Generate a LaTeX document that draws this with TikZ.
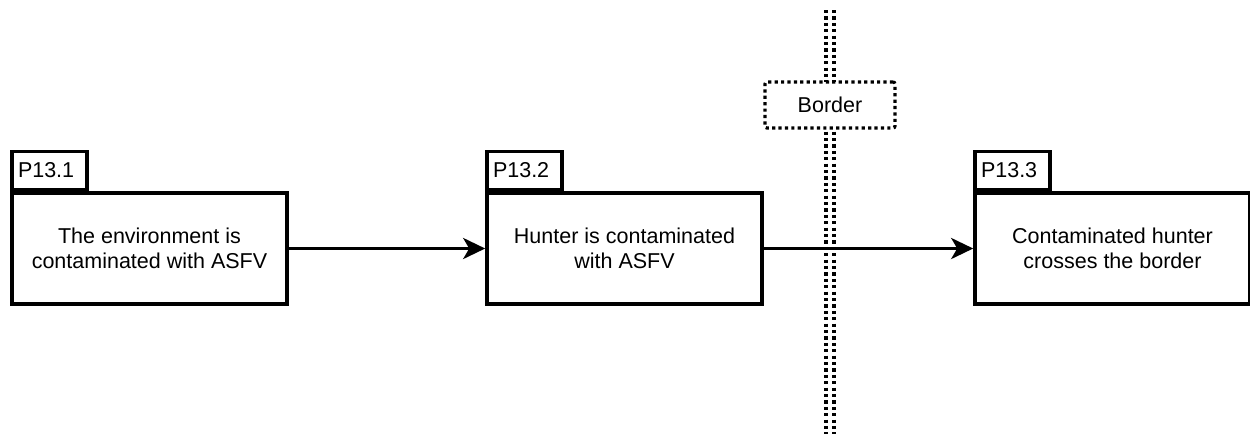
\documentclass[tikz,border=0pt]{standalone}
\usepackage{fontspec}
\setmainfont{Liberation Sans}
\usetikzlibrary{arrows.meta}
\tikzset{
  labelfont/.style={font=\fontsize{21.5}{25}\selectfont},
  stagebox/.style={draw=black, line width=3.6pt, fill=white, minimum width=275pt, minimum height=111pt,
    inner sep=0pt, align=center, labelfont},
  tabbox/.style={draw=black, line width=3.6pt, fill=white, minimum width=75pt, minimum height=38pt,
    inner sep=0pt, anchor=south west, labelfont, text width=63pt, align=left},
  flow/.style={line width=3.4pt, -{Stealth[length=22pt, width=21pt, inset=6pt]}},
  borderline/.style={line width=3.2pt, dash pattern=on 3.2pt off 3.2pt},
  borderbox/.style={draw=black, line width=3.2pt, dash pattern=on 3.2pt off 3.2pt, fill=white,
    rounded corners=2pt, minimum width=130pt, minimum height=46pt, inner sep=0pt, labelfont}
}
\begin{document}
\begin{tikzpicture}[x=1pt, y=-1pt]
  \useasboundingbox (0,0) rectangle (1250,437);

  % double dotted border line
  \coordinate (bt1) at (826,10);
  \coordinate (bb1) at (826,434);
  \coordinate (bt2) at (834,10);
  \coordinate (bb2) at (834,434);
  \draw[borderline] (bt1) -- (bb1);
  \draw[borderline] (bt2) -- (bb2);
  \node[borderbox] (border) at (830,105) {Border};

  % process stages
  \node[stagebox] (s1) at (149.5,248.5) {The environment is\\contaminated with ASFV};
  \node[tabbox] (t1) at (s1.north west) {P13.1};

  \node[stagebox] (s2) at (624.5,248.5) {Hunter is contaminated\\with ASFV};
  \node[tabbox] (t2) at (s2.north west) {P13.2};

  \node[stagebox] (s3) at (1112.5,248.5) {Contaminated hunter\\crosses the border};
  \node[tabbox] (t3) at (s3.north west) {P13.3};

  % flow arrows
  \draw[flow] (s1.east) -- (s2.west);
  \draw[flow] (s2.east) -- (s3.west);
\end{tikzpicture}
\end{document}
